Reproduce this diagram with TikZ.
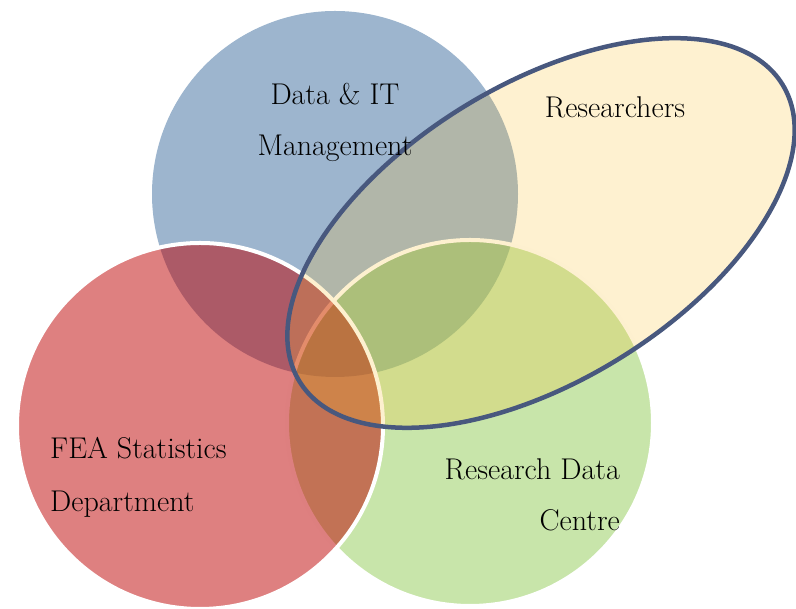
\documentclass[tikz,border=0pt]{standalone}
\usepackage{xcolor}

\definecolor{itblue}{RGB}{59,107,157}
\definecolor{feared}{RGB}{189,1,1}
\definecolor{rdcgreen}{RGB}{145,203,85}
\definecolor{resyellow}{RGB}{250,190,40}
\definecolor{resline}{RGB}{72,88,126}

\begin{document}
\begin{tikzpicture}[x = 1pt, y = 1pt,
	venn/.style = {fill opacity = 0.5, draw = white, line width = 4pt},
	label/.style = {font = \fontsize{30}{52}\selectfont, inner sep = 0pt}]
	\useasboundingbox (0,0) rectangle (796,609);
	\fill[itblue, fill opacity = 0.5] (335,415) circle (183pt);
	\filldraw[venn, fill = rdcgreen] (470,186) circle (183pt);
	\filldraw[venn, fill = feared] (200,183) circle (183pt);
	\filldraw[fill = resyellow, fill opacity = 0.22, draw = resline, line width = 4.5pt]
		(541,376) ellipse [x radius = 283.5pt, y radius = 148pt, rotate = 31.6];
	\node[label, anchor = base] (data) at (335,504) {Data \& IT};
	\node[label, anchor = base] (mgmt) at (335,453) {Management};
	\node[label, anchor = base] (res) at (615,491) {Researchers};
	\node[label, anchor = base west] (fea) at (50,150) {FEA Statistics};
	\node[label, anchor = base west] (dept) at (50,97) {Department};
	\node[label, anchor = base east] (rdc) at (620,129) {Research Data};
	\node[label, anchor = base east] (centre) at (620,78) {Centre};
\end{tikzpicture}
\end{document}
